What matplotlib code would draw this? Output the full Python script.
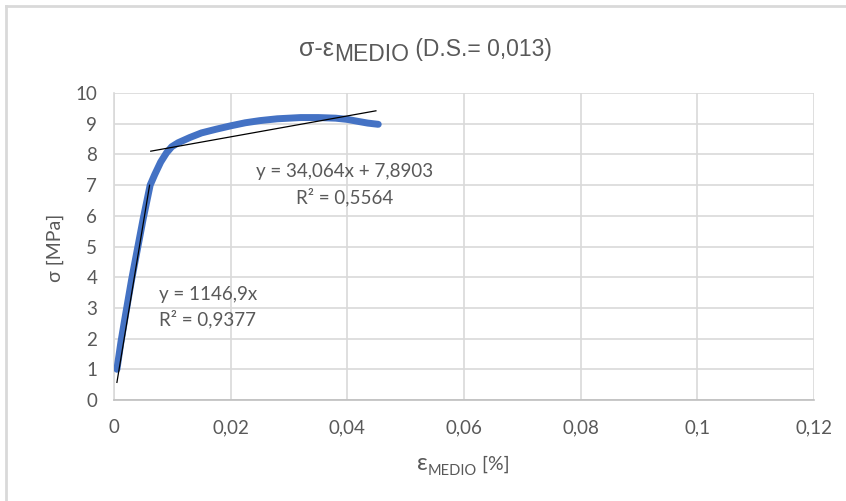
import matplotlib
matplotlib.use("Agg")
import matplotlib.pyplot as plt
from matplotlib.lines import Line2D
import numpy as np

# Mean strain [%] and stress [MPa] of the test
strain = [0.0005, 0.0012, 0.0020, 0.0030, 0.0040, 0.0050, 0.0062, 0.0070,
          0.0080, 0.0090, 0.0099, 0.0110, 0.0130, 0.0150, 0.0175, 0.0200,
          0.0225, 0.0250, 0.0280, 0.0320, 0.0350, 0.0380, 0.0400, 0.0420,
          0.0435, 0.0453]
stress = [1.00, 1.90, 2.80, 3.90, 4.90, 5.90, 7.00, 7.35,
          7.75, 8.05, 8.25, 8.38, 8.55, 8.70, 8.82, 8.93,
          9.03, 9.10, 9.16, 9.20, 9.20, 9.18, 9.14, 9.07,
          9.02, 8.98]

# Linear trendlines (elastic part through origin, plastic part)
elastic_slope = 1146.9
elastic_r2 = 0.9377
elastic_range = [0.0005, 0.0061]
plastic_slope = 34.064
plastic_intercept = 7.8903
plastic_r2 = 0.5564
plastic_range = [0.0063, 0.0449]

x_ticks = [0, 0.02, 0.04, 0.06, 0.08, 0.10, 0.12]
x_tick_labels = ["0", "0,02", "0,04", "0,06", "0,08", "0,1", "0,12"]
y_ticks = [0, 1, 2, 3, 4, 5, 6, 7, 8, 9, 10]

TXT = "#595959"
GRID = "#D9D9D9"
W, H = 846, 501
lato = ["Lato", "DejaVu Sans"]
arial = ["Liberation Sans", "DejaVu Sans"]

fig = plt.figure(figsize=(W / 100, H / 100), dpi=100)
fig.patch.set_facecolor("white")
ax = fig.add_axes([114 / W, 1 - 400 / H, 700 / W, 307 / H])

ax.plot(strain, stress, color="#4472C4", lw=5, solid_capstyle="round",
        solid_joinstyle="round", zorder=3)

xe = np.array(elastic_range)
ax.plot(xe, elastic_slope * xe, color="black", lw=0.9, zorder=4)
xp = np.array(plastic_range)
ax.plot(xp, plastic_slope * xp + plastic_intercept, color="black", lw=0.9, zorder=4)


def fmt(v):
    return str(v).replace(".", ",")


FS = 13.5
ax.text(0.0077, 3.45, f"y = {fmt(elastic_slope)}x", fontsize=FS, ha="left",
        va="center", family=lato, color=TXT)
ax.text(0.0077, 2.64, f"R² = {fmt(elastic_r2)}", fontsize=FS, ha="left",
        va="center", family=lato, color=TXT)
ax.text(0.0396, 7.43, f"y = {fmt(plastic_slope)}x + {fmt(plastic_intercept)}",
        fontsize=FS, ha="center", va="center", family=lato, color=TXT)
ax.text(0.0396, 6.61, f"R² = {fmt(plastic_r2)}", fontsize=FS, ha="center",
        va="center", family=lato, color=TXT)

ax.set_xlim(0, 0.12)
ax.set_ylim(0, 10)
ax.set_xticks(x_ticks)
ax.set_xticklabels(x_tick_labels)
ax.set_yticks(y_ticks)
ax.grid(True, color=GRID, lw=1.2, zorder=0)
ax.set_axisbelow(True)
for s in ["top", "right"]:
    ax.spines[s].set_visible(False)
ax.spines["left"].set_color(GRID)
ax.spines["left"].set_linewidth(1.2)
ax.spines["bottom"].set_color("#BFBFBF")
ax.spines["bottom"].set_linewidth(1.2)
ax.tick_params(axis="x", length=0, pad=14, labelsize=FS, labelcolor=TXT)
ax.tick_params(axis="y", length=0, pad=12, labelsize=FS, labelcolor=TXT)
for lab in ax.get_xticklabels() + ax.get_yticklabels():
    lab.set_family(lato)

renderer = fig.canvas.get_renderer()


def chain(parts, x0, y0):
    """Draw text runs one after another; x0, y0 in pixels from top-left."""
    x = x0
    for text, size, dy, fam in parts:
        t = fig.text(x / W, 1 - (y0 + dy) / H, text, fontsize=size, color=TXT,
                     family=fam, ha="left", va="baseline")
        x += t.get_window_extent(renderer).width


chain([("σ-ε", 18, 0, arial), ("MEDIO", 16.5, 5, arial),
       (" (D.S.= 0,013)", 16.5, 0, arial)], 299, 56)

chain([("ε", 17, 0, lato), ("MEDIO", 10.5, 5, lato), (" [%]", 14, 0, lato)],
      417, 470)

fig.text(55 / W, 1 - 247.5 / H, "σ [MPa]", rotation=90, fontsize=14,
         color=TXT, family=lato, ha="center", va="center")

# outer frame (top and left edges)
fig.add_artist(Line2D([6 / W, 1], [1 - 6 / H, 1 - 6 / H], color=GRID, lw=2,
                      transform=fig.transFigure))
fig.add_artist(Line2D([6 / W, 6 / W], [0, 1 - 6 / H], color=GRID, lw=2,
                      transform=fig.transFigure))

fig.savefig("out.png", dpi=100)
